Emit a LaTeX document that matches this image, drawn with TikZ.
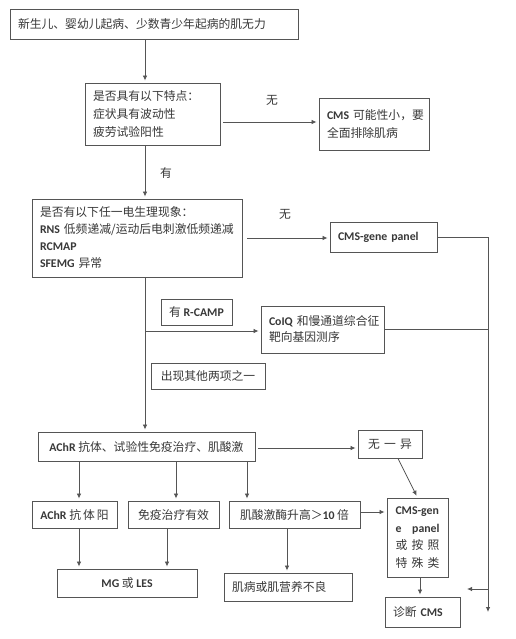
\documentclass[tikz,border=0pt]{standalone}
\usepackage{fontspec}
\setmainfont{Noto Sans CJK SC}
\newfontfamily\latfont{Carlito}
\newcommand\latn[1]{{\latfont\bfseries #1}}
\usetikzlibrary{arrows.meta}
\definecolor{lncol}{HTML}{555555}
\definecolor{txcol}{HTML}{383838}
\tikzset{
 bx/.style={draw=lncol, line width=0.9pt, inner xsep=8pt, inner ysep=0pt, text=txcol, font=\fontsize{11.8}{18}\selectfont, align=left},
 cbx/.style={bx, align=center},
 arr/.style={draw=lncol, line width=0.8pt, -{Latex[length=5pt,width=4.5pt]}, shorten >=2pt},
 wire/.style={draw=lncol, line width=0.8pt},
 lbl/.style={text=txcol, font=\fontsize{11.8}{14}\selectfont, inner sep=0pt}
}
\begin{document}
\begin{tikzpicture}[x=1pt,y=-1pt]
\useasboundingbox[fill=white] (0,0) rectangle (515,639);
% boxes
\node[bx, minimum width=288pt, minimum height=30pt, text width=272pt] (b1) at (154,24) {新生儿、婴幼儿起病、少数青少年起病的肌无力};
\node[bx, minimum width=135pt, minimum height=62pt, text width=119pt] (b2) at (152.5,114) {是否具有以下特点：\\症状具有波动性\\疲劳试验阳性};
\node[bx, minimum width=110pt, minimum height=52pt, text width=94pt] (c1) at (374,124) {\mbox{\latn{CMS} 可能性小，要}\\全面排除肌病};
\node[bx, minimum width=210pt, minimum height=78pt, text width=194pt, font=\fontsize{11.8}{17}\selectfont] (b3) at (137,238) {是否有以下任一电生理现象：\\\mbox{\latn{RNS} 低频递减/运动后电刺激低频递减}\\\latn{RCMAP}\\\latn{SFEMG} 异常};
\node[bx, minimum width=107pt, minimum height=30pt, text width=91pt] (g1) at (383.5,237) {\latn{CMS-gene panel}};
\node[cbx, minimum width=71pt, minimum height=26pt] (r1) at (196.5,312) {有 \latn{R-CAMP}};
\node[bx, minimum width=123pt, minimum height=47pt, text width=107pt, font=\fontsize{11.8}{16}\selectfont] (q1) at (322.5,329.5) {\mbox{\latn{CoIQ} 和慢通道综合征}\\靶向基因测序};
\node[cbx, minimum width=114pt, minimum height=26pt] (o1) at (208,376) {出现其他两项之一};
\node[cbx, minimum width=217pt, minimum height=29pt] (k1) at (146.5,446.5) {\latn{AChR} 抗体、试验性免疫治疗、肌酸激};
\node[cbx, minimum width=64pt, minimum height=28pt] (n1) at (390,444) {\makebox[44pt]{无\hfill 一\hfill 异}};
\node[bx, minimum width=61pt, minimum height=79pt, text width=44pt, inner xsep=8.5pt, font=\fontsize{11.8}{17.5}\selectfont] (c2) at (417.5,537.5) {\makebox[44pt][l]{\latn{CMS-gen}}\\\makebox[44pt]{\latn{e}\hfill\latn{panel}}\\\makebox[44pt]{或\hfill 按\hfill 照}\\\makebox[44pt]{特\hfill 殊\hfill 类}};
\node[cbx, minimum width=85pt, minimum height=27pt] (a1) at (74.5,514.5) {\latn{AChR} 抗\,体\,阳};
\node[cbx, minimum width=91pt, minimum height=27pt] (a2) at (173.5,514.5) {免疫治疗有效};
\node[cbx, minimum width=131pt, minimum height=27pt] (a3) at (294.5,514.5) {肌酸激酶升高＞\latn{10} 倍};
\node[cbx, minimum width=140pt, minimum height=28pt] (m1) at (127,583) {\latn{MG} 或 \latn{LES}};
\node[bx, minimum width=128pt, minimum height=28pt, text width=112pt] (m2) at (288,587) {肌病或肌营养不良};
\node[bx, minimum width=75pt, minimum height=30pt, text width=59pt] (d1) at (422.5,612) {诊断 \latn{CMS}};
% labels
\node[lbl] (l1) at (272,100) {无};
\node[lbl] (l2) at (166,173) {有};
\node[lbl] (l3) at (285,214) {无};
% helper coordinates
\coordinate (xA) at (145,0);
\coordinate (xR) at (488,0);
\coordinate (x1) at (79,0);
\coordinate (x2) at (176,0);
\coordinate (x3) at (247,0);
\coordinate (x4) at (167,0);
\coordinate (x5) at (287,0);
\coordinate (x6) at (420,0);
\coordinate (rend) at (488,614);
\coordinate (rj) at (488,589);
\coordinate (rt) at (467,589);
\coordinate (j1) at (145,331);
% connectors
\draw[arr] (b1.south -| xA) -- (b2.north -| xA);
\draw[arr, shorten <=3pt] ([yshift=-8pt]b2.east) -- ([yshift=-8pt]b2.east -| c1.west);
\draw[arr] (b2.south -| xA) -- (b3.north -| xA);
\draw[arr, shorten <=5pt] (b3.east) -- (b3.east -| g1.west);
\draw[arr] (g1.east) -- (g1.east -| xR) -- (rend);
\draw[arr, shorten >=0pt] (rj) -- (rt);
\draw[wire] (q1.east) -- (q1.east -| xR);
\draw[arr] (b3.south -| xA) -- (k1.north -| xA);
\draw[arr] (j1) -- (j1 -| q1.west);
\draw[arr, shorten <=3pt] ([yshift=-1.5pt]k1.east) -- ([yshift=-1.5pt]k1.east -| n1.west);
\draw[arr] ([xshift=8pt]n1.south) -- (c2.north);
\draw[arr] (k1.south -| x1) -- (a1.north -| x1);
\draw[arr] (k1.south -| x2) -- (a2.north -| x2);
\draw[arr] (k1.south -| x3) -- (a3.north -| x3);
\draw[arr] ([yshift=2.5pt]a3.east) -- ([yshift=2.5pt]a3.east -| c2.west);
\draw[arr] (a1.south -| x1) -- (m1.north -| x1);
\draw[arr] (a2.south -| x4) -- (m1.north -| x4);
\draw[arr] (a3.south -| x5) -- (m2.north -| x5);
\draw[arr] (c2.south -| x6) -- (d1.north -| x6);
\end{tikzpicture}
\end{document}
